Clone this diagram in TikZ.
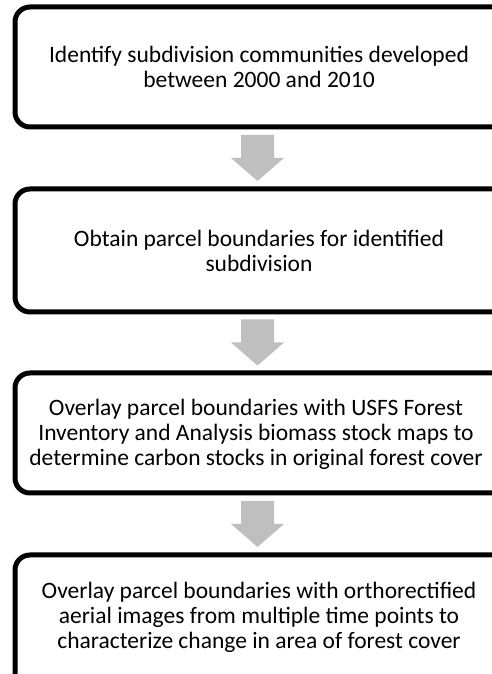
\documentclass[tikz,border=0pt]{standalone}
\usepackage{fontspec}
\setmainfont{Carlito}
\usetikzlibrary{calc}
\definecolor{arrowgray}{RGB}{191,191,191}
\tikzset{
  stepbox/.style={draw=black, line width=5pt, rounded corners=15pt, fill=white,
    minimum width=520pt, minimum height=120pt, inner sep=0pt},
  steptext/.style={align=center, inner sep=0pt, font=\fontsize{23.5}{25}\selectfont},
}
\newcommand\blockarrowat[1]{%
  \fill[arrowgray] (#1) ++(-16.5pt,23pt) -- ++(33pt,0) -- ++(0,-23pt) -- ++(10pt,0)
    -- ++(-26.5pt,-23pt) -- ++(-26.5pt,23pt) -- ++(10pt,0) -- cycle;}
\begin{document}
\begin{tikzpicture}[x=1pt,y=1pt]
\useasboundingbox (0,0) rectangle (492,674);
\clip (0,0) rectangle (492,674);
\node[stepbox] (b1) at (275,607) {};
\node[stepbox, minimum height=123pt] (b2) at (275,423.5) {};
\node[stepbox] (b3) at (275,241) {};
\node[stepbox, minimum height=150pt] (b4) at (275,44) {};
\node[steptext] (t1) at (259,607) {Identify subdivision communities developed\\between 2000 and 2010};
\node[steptext] (t2) at (259,423.5) {Obtain parcel boundaries for identified\\subdivision};
\node[steptext] (t3) at (256,240) {Overlay parcel boundaries with USFS Forest\\Inventory and Analysis biomass stock maps to\\determine carbon stocks in original forest cover};
\node[steptext] (t4) at (259,57) {Overlay parcel boundaries with orthorectified\\aerial images from multiple time points to\\characterize change in area of forest cover};
\coordinate (a1) at ($(b1.south)!0.5!(b2.north)+(-17.5,0)$);
\coordinate (a2) at ($(b2.south)!0.5!(b3.north)+(-17.5,0)$);
\coordinate (a3) at ($(b3.south)!0.5!(b4.north)+(-17.5,0)$);
\blockarrowat{a1}
\blockarrowat{a2}
\blockarrowat{a3}
\end{tikzpicture}
\end{document}
